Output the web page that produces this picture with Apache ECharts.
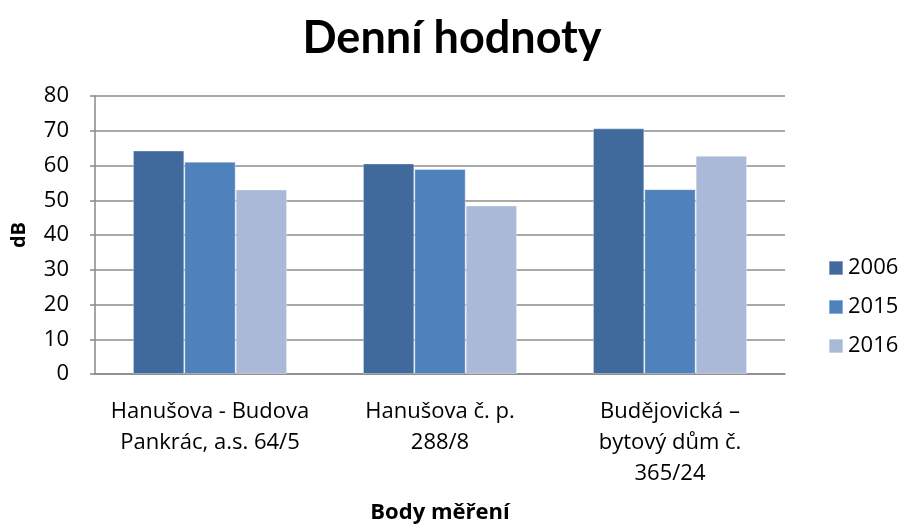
<!DOCTYPE html>
<html><head><meta charset="utf-8">
<script src="https://cdn.jsdelivr.net/npm/echarts@6/dist/echarts.min.js"></script>
<style>html,body{margin:0;padding:0;background:#fff}#c{width:904px;height:524px}</style>
</head><body><div id="c"></div>
<script>
const categories = ["Hanušova - Budova\nPankrác, a.s. 64/5", "Hanušova č. p.\n288/8", "Budějovická –\nbytový dům č.\n365/24"];
const seriesNames = ["2006", "2015", "2016"];
const values2006 = [64.3, 60.6, 70.7];
const values2015 = [61.1, 59.0, 53.2];
const values2016 = [53.1, 48.5, 62.8];
const yTicks = [0, 10, 20, 30, 40, 50, 60, 70, 80];
const colors = ["#3F6A9B", "#4F81BD", "#AAB9D7"];
const font = "'Open Sans', Lato, sans-serif";
const titleFont = "Lato, 'Open Sans', sans-serif";
const chart = echarts.init(document.getElementById('c'));
const allVals = [values2006, values2015, values2016];
chart.setOption({
  animation: false,
  textStyle: { fontFamily: font },
  title: { text: "Denní hodnoty", left: 'center', top: 11, textStyle: { fontSize: 45, fontWeight: 'bold', color: '#000', fontFamily: titleFont } },
  legend: {
    orient: 'vertical', left: 823, top: 252, itemWidth: 14, itemHeight: 14, itemGap: 17,
    icon: 'rect', textStyle: { fontSize: 22, color: '#000', fontFamily: font },
    data: seriesNames
  },
  grid: { left: 95, right: 119, top: 96, bottom: 150, containLabel: false, outerBoundsMode: 'none' },
  xAxis: {
    type: 'category', data: categories,
    name: "Body měření", nameLocation: 'middle', nameGap: 128,
    nameTextStyle: { fontSize: 22, fontWeight: 'bold', color: '#000', fontFamily: font },
    axisLine: { lineStyle: { color: '#888', width: 1.5 } },
    axisTick: { show: false },
    axisLabel: { interval: 0, fontSize: 22, color: '#000', lineHeight: 31, margin: 22, fontFamily: font }
  },
  yAxis: {
    type: 'value', min: yTicks[0], max: yTicks[yTicks.length - 1], interval: 10,
    name: "dB", nameLocation: 'middle', nameGap: 66, nameRotate: 90,
    nameTextStyle: { fontSize: 20, fontWeight: 'bold', color: '#000', fontFamily: font },
    axisLine: { show: true, lineStyle: { color: '#888', width: 1.5 } },
    axisTick: { show: true, length: 5, lineStyle: { color: '#888', width: 1.5 } },
    axisLabel: { fontSize: 22, color: '#000', margin: 26, fontFamily: font },
    splitLine: { lineStyle: { color: '#8c8c8c', width: 1.5 } }
  },
  series: seriesNames.map((n, i) => ({
    name: n, type: 'bar', data: allVals[i], barGap: '0%', barCategoryGap: '33%',
    itemStyle: { color: colors[i], borderColor: 'rgba(255,255,255,0.35)', borderWidth: 1 }
  }))
});
</script></body></html>
